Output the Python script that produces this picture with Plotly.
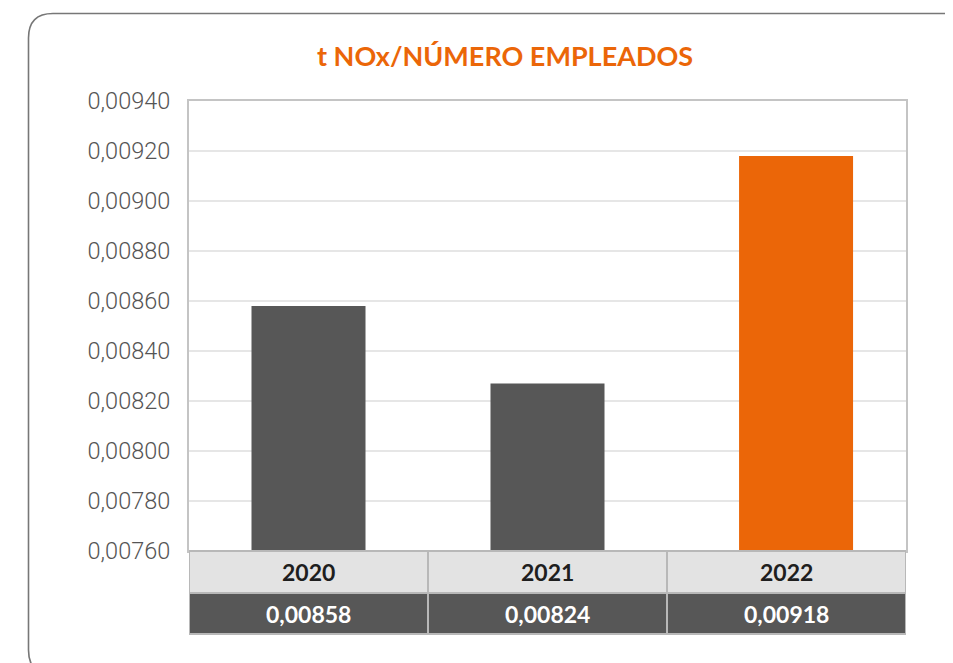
import plotly.graph_objects as go

# ---- data ----
years = ["2020", "2021", "2022"]
bar_values = [0.00858, 0.00827, 0.00918]
value_labels = ["0,00858", "0,00824", "0,00918"]
title_text = "t NOx/NÚMERO EMPLEADOS"

# ---- styling ----
# page body has an 8px margin
OFF = 8
W, H = 953, 663 - OFF
bar_colors = ["#575757", "#575757", "#EB6608"]
bar_offsets = [-0.2385, -0.2385, -0.1985]
GRID = "#e6e6e6"
BORDER = "#c4c4c4"


def px(x):
    return (x - OFF) / W


def py(y):
    return 1 - (y - OFF) / H


plot_l, plot_r, plot_t, plot_b = 189, 906, 101, 551
row1_b, row2_b = 593, 634

fig = go.Figure()
fig.add_trace(go.Bar(
    x=years, y=bar_values,
    marker=dict(color=bar_colors, line=dict(width=0)),
    width=0.477, offset=bar_offsets,
    hoverinfo="skip",
))

shapes = []
# outer rounded frame
shapes.append(dict(
    type="path", xref="paper", yref="paper",
    path=(f"M {px(53.5)} {py(675)} Q {px(28.5)} {py(675)} {px(28.5)} {py(650)} "
          f"L {px(28.5)} {py(38)} "
          f"Q {px(28.5)} {py(13.5)} {px(53)} {py(13.5)} L {px(1000)} {py(13.5)}"),
    line=dict(color="#777777", width=1.6), layer="below",
))
# table rows
shapes.append(dict(type="rect", xref="x", yref="paper",
                   x0=-0.5, x1=2.5, y0=py(row1_b), y1=py(plot_b),
                   fillcolor="#e3e3e3", line=dict(width=0)))
shapes.append(dict(type="rect", xref="x", yref="paper",
                   x0=-0.5, x1=2.5, y0=py(row2_b), y1=py(row1_b),
                   fillcolor="#575757", line=dict(width=0)))
# table lines
for yy in [plot_b, row1_b, row2_b]:
    shapes.append(dict(type="line", xref="x", yref="paper",
                       x0=-0.5, x1=2.5, y0=py(yy), y1=py(yy),
                       line=dict(color="#b8b8b8", width=2)))
for i in range(len(years) + 1):
    shapes.append(dict(type="line", xref="x", yref="paper",
                       x0=i - 0.5, x1=i - 0.5, y0=py(row2_b), y1=py(plot_b),
                       line=dict(color="#b8b8b8", width=2)))

annotations = []
for i, (yr, lab) in enumerate(zip(years, value_labels)):
    annotations.append(dict(
        x=i, xref="x", y=py((plot_b + row1_b) / 2), yref="paper",
        text=f"<b>{yr}</b>", showarrow=False, yanchor="middle",
        font=dict(family="Lato", size=23, color="#1e1e1e"),
    ))
    annotations.append(dict(
        x=i, xref="x", y=py((row1_b + row2_b) / 2), yref="paper",
        text=f"<b>{lab}</b>", showarrow=False, yanchor="middle",
        font=dict(family="Lato", size=23, color="#ffffff"),
    ))
annotations.append(dict(
    x=px(505), xref="paper", y=py(56), yref="paper",
    text=f"<b>{title_text}</b>", showarrow=False, yanchor="middle",
    font=dict(family="Lato", size=27, color="#EB6608"),
))

fig.update_layout(
    width=W, height=H,
    margin=dict(l=0, r=0, t=0, b=0, autoexpand=False),
    paper_bgcolor="white", plot_bgcolor="white",
    separators=",.",
    showlegend=False,
    shapes=shapes, annotations=annotations,
    xaxis=dict(
        type="category", automargin=False,
        domain=[px(plot_l), px(plot_r)],
        showticklabels=False, showgrid=False, zeroline=False,
        showline=True, mirror=True, linecolor=BORDER, linewidth=2,
        range=[-0.5, 2.5], fixedrange=True,
    ),
    yaxis=dict(
        automargin=False,
        domain=[py(plot_b), py(plot_t)],
        range=[0.0076, 0.0094], dtick=0.0002, tick0=0.0076,
        tickformat=".5f",
        showgrid=True, gridcolor=GRID, gridwidth=2,
        zeroline=False,
        showline=True, mirror=True, linecolor=BORDER, linewidth=2,
        ticks="", ticklabelstandoff=12,
        tickfont=dict(family="Roboto", size=23.5, color="#555555", weight=300),
        fixedrange=True,
    ),
)

fig.write_html("out.html")
